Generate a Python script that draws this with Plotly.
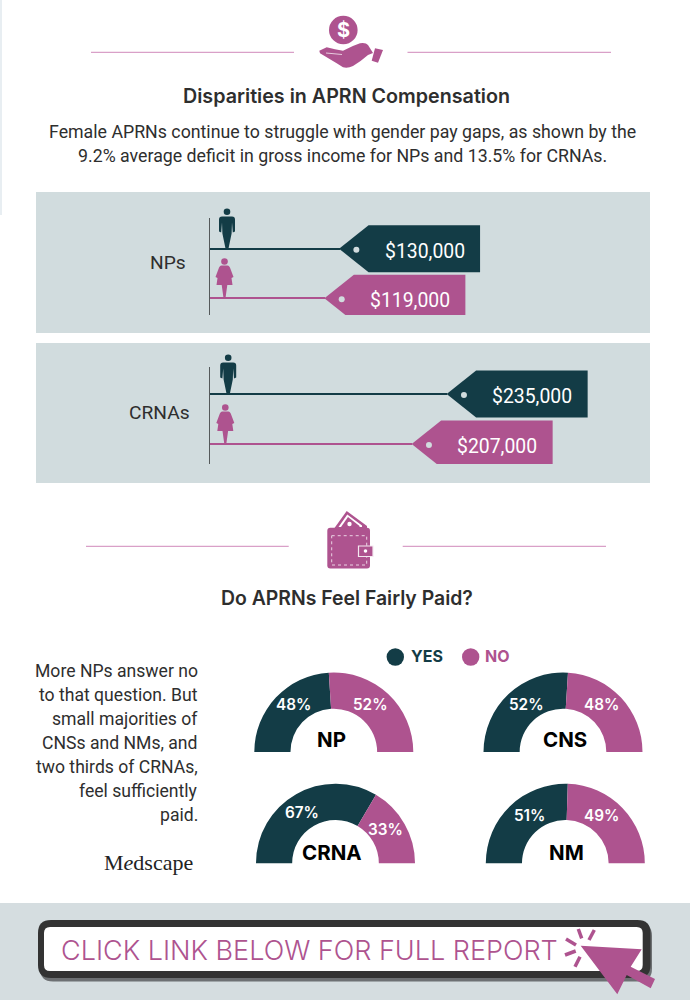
import plotly.graph_objects as go

# ---- data ----
genders = ["Male", "Female"]
np_pay = [130000, 119000]
crna_pay = [235000, 207000]
pay_labels_np = ["$130,000", "$119,000"]
pay_labels_crna = ["$235,000", "$207,000"]
donut_names = ["NP", "CNS", "CRNA", "NM"]
yes_pct = [48, 52, 67, 51]
no_pct = [52, 48, 33, 49]
body_lines = ["Female APRNs continue to struggle with gender pay gaps, as shown by the",
              "9.2% average deficit in gross income for NPs and 13.5% for CRNAs."]
side_lines = ["More NPs answer no", "to that question. But", "small majorities of",
              "CNSs and NMs, and", "two thirds of CRNAs,", "feel sufficiently", "paid."]

# ---- style ----
W, H = 690, 1000
DARK = "#133C46"
PURPLE = "#AE538F"
PINK = "#D9A0C8"
PANEL = "#D1DCDE"
BAND = "#D5DDE0"
INK = "#2E2E2E"
HEAD = "Inter"
BODY = "Roboto"

shapes, annos = [], []


def text(s, x, y, size, color=INK, family=BODY, weight=400, anchor="center", xref="x", yref="y", xshift=0, yshift=0):
    annos.append(dict(text=s, x=x, y=y, xref=xref, yref=yref, showarrow=False, xanchor=anchor, yanchor="middle",
                      xshift=xshift, yshift=yshift, align=anchor if anchor != "center" else "center",
                      font=dict(family=family, size=size, color=color, weight=weight)))


def rect(x0, y0, x1, y1, color, layer="below"):
    shapes.append(dict(type="rect", xref="x", yref="y", x0=x0, y0=y0, x1=x1, y1=y1, layer=layer,
                       fillcolor=color, line=dict(width=0)))


def hline(x0, x1, y, color=PINK, w=1.2):
    shapes.append(dict(type="line", xref="x", yref="y", x0=x0, x1=x1, y0=y, y1=y, layer="below",
                       line=dict(color=color, width=w)))


def path(d, color, line=None, lw=0):
    shapes.append(dict(type="path", xref="x", yref="y", path=d, fillcolor=color, layer="above",
                       line=dict(width=lw, color=line or color)))


def circle(cx, cy, r, color):
    shapes.append(dict(type="circle", xref="x", yref="y", x0=cx - r, x1=cx + r, y0=cy - r, y1=cy + r,
                       fillcolor=color, layer="above", line=dict(width=0)))


def round_rect(x0, y0, x1, y1, r, color):
    path(f"M {x0+r} {y0} L {x1-r} {y0} Q {x1} {y0} {x1} {y0+r} L {x1} {y1-r} Q {x1} {y1} {x1-r} {y1} "
         f"L {x0+r} {y1} Q {x0} {y1} {x0} {y1-r} L {x0} {y0+r} Q {x0} {y0} {x0+r} {y0} Z", color)


def man(cx, base):
    t = base - 36.5
    circle(cx, base - 36.3, 3.3, DARK)
    path(f"M {cx-5} {t+5} L {cx+5} {t+5} Q {cx+8} {t+5} {cx+8} {t+8} L {cx+8} {t+20} L {cx+5.8} {t+21} "
         f"L {cx+5} {t+11} L {cx+4.6} {t+22} L {cx+1.6} {base} L {cx-1.6} {base} L {cx-4.6} {t+22} L {cx-5} {t+11} "
         f"L {cx-5.8} {t+21} L {cx-8} {t+20} L {cx-8} {t+8} Q {cx-8} {t+5} {cx-5} {t+5} Z", DARK)


def woman(cx, base):
    circle(cx, base - 36.5, 3.3, PURPLE)
    path(f"M {cx-3} {base-32.5} L {cx+3} {base-32.5} Q {cx+5} {base-32.5} {cx+6} {base-29} L {cx+9} {base-21} L {cx+7} {base-20} "
         f"L {cx+8} {base-13} L {cx+2.8} {base-13} L {cx+1} {base} L {cx-1} {base} L {cx-2.8} {base-13} L {cx-8} {base-13} "
         f"L {cx-7} {base-20} L {cx-9} {base-21} L {cx-6} {base-29} Q {cx-5} {base-32.5} {cx-3} {base-32.5} Z", PURPLE)


fig = go.Figure()

# full page pixel axis for the surrounding artwork
layout_axes = dict(
    xaxis=dict(domain=[0, 1], range=[0, W], visible=False, fixedrange=True),
    yaxis=dict(domain=[0, 1], range=[H, 0], visible=False, fixedrange=True),
)
fig.add_trace(go.Scatter(x=[None], y=[None], xaxis="x", yaxis="y", showlegend=False))

# backgrounds
rect(0, 0, 2, 215, "#E8EEF2")
rect(36, 192, 650, 333, PANEL)
rect(36, 343, 650, 483, PANEL)
rect(0, 903, W, H, BAND)

# header block 1
hline(91, 294, 52.3)
hline(407.5, 611, 52.3)
circle(343.3, 30, 14.3, PURPLE)
text("$", 343.3, 30, 20, "white", HEAD, 700)
path("M 319.3 50.7 L 326.7 47.3 L 335 49.3 L 343 50.7 Q 352 46 360 43.3 Q 366 42.5 368 45 L 373 53 L 368 55 "
     "Q 360 62 353 66 Q 348 68.5 343 67.3 L 336.7 63.3 L 320 53.3 Z", PURPLE)
path("M 375 48.3 L 383 50 L 378 62.7 L 371.7 60.7 Z", PURPLE)
shapes.append(dict(type="line", xref="x", yref="y", x0=326, y0=53, x1=342, y1=54.5, layer="above",
                   line=dict(color="white", width=0.7)))
text("Disparities in APRN Compensation", 346.5, 96, 19.7, INK, HEAD, 600)
for i, s in enumerate(body_lines):
    text(s, 342, 131.7 + i * 24.3, 17.75)

# pay panels: each has its own dollar scale, anchored to the vertical rule
PANELS = [
    dict(ax="2", pay=np_pay, labels=pay_labels_np, rng=[32900, 363000], yr=[1.337, -0.62], dom=[218, 315],
         title="NPs", tx=188, ty=262),
    dict(ax="3", pay=crna_pay, labels=pay_labels_crna, rng=[45320, 397640], yr=[1.4, -0.54], dom=[367, 464],
         title="CRNAs", tx=192, ty=412),
]
for p in PANELS:
    a = p["ax"]
    layout_axes[f"xaxis{a}"] = dict(domain=[209.5 / W, 650 / W], range=p["rng"], anchor=f"y{a}", visible=False, fixedrange=True)
    layout_axes[f"yaxis{a}"] = dict(domain=[1 - p["dom"][1] / H, 1 - p["dom"][0] / H], range=p["yr"], anchor=f"x{a}",
                                    type="category", categoryorder="array", categoryarray=genders,
                                    showgrid=False, zeroline=False, showticklabels=False, ticks="",
                                    showline=True, linecolor="#555A5B", linewidth=1, fixedrange=True)
    fig.add_trace(go.Bar(x=p["pay"], y=genders, orientation="h", width=0.045, xaxis=f"x{a}", yaxis=f"y{a}",
                         marker=dict(color=[DARK, PURPLE], line=dict(width=0)), showlegend=False, hoverinfo="skip"))
    for i, (v, lab) in enumerate(zip(p["pay"], p["labels"])):
        col = DARK if i == 0 else PURPLE
        shapes.append(dict(type="path", xref=f"x{a}", yref=f"y{a}", xsizemode="pixel", ysizemode="pixel",
                           xanchor=v, yanchor=i, layer="above", fillcolor=col, line=dict(width=0),
                           path="M 0 0 L 29.5 23.5 L 141 23.5 L 141 -23.5 L 29.5 -23.5 Z"))
        shapes.append(dict(type="circle", xref=f"x{a}", yref=f"y{a}", xsizemode="pixel", ysizemode="pixel",
                           xanchor=v, yanchor=i, layer="above", fillcolor=PANEL, line=dict(width=0),
                           x0=14.3, x1=20.3, y0=-4, y1=2))
        text(lab, v, i, 19.4, "white", BODY, 400, "right", f"x{a}", f"y{a}", xshift=127.5, yshift=-2.5)
    text(p["title"], p["tx"], p["ty"], 19.2, INK, BODY, 400, "right")

man(227, 248)
woman(224.5, 298)
man(228.2, 394)
woman(225.3, 444)

# header block 2
hline(86, 288.7, 546.3)
hline(402.7, 606, 546.3)
path("M 334.5 528 L 346.7 511 L 367 526 L 367 528 Z", PURPLE)
path("M 338.5 527 L 347.3 514.5 L 362 525.5 L 362 527 Z", "white")
path("M 341 527 L 348 517 L 359.5 526 L 359.5 527 Z", PURPLE)
circle(349.5, 524, 2.2, "white")
round_rect(327.3, 527.7, 370, 568.5, 3, PURPLE)
shapes.append(dict(type="rect", xref="x", yref="y", x0=331.7, x1=366.7, y0=535.7, y1=565, layer="above",
                   fillcolor="rgba(0,0,0,0)", line=dict(color="#EBD3E3", width=1, dash="dot")))
path("M 358.5 546 L 373 546 L 373 556.5 L 358.5 556.5 Z", PURPLE, "#F4E8F0", 1.2)
circle(365.5, 551, 1.8, "white")
text("Do APRNs Feel Fairly Paid?", 346.5, 598, 19.4, INK, HEAD, 600)

# side text
for i, s in enumerate(side_lines):
    text(s, 199.5, 670.7 + i * 24.1, 17.6, INK, BODY, 400, "right")
text("M<i>e</i>dscape", 195, 862, 22, "#222222", "Liberation Serif", 400, "right")

# legend
circle(395.3, 657, 8.7, DARK)
text("YES", 408.5, 656, 16, DARK, HEAD, 700, "left")
circle(470.7, 657, 8.7, PURPLE)
text("NO", 482.5, 656, 16, PURPLE, HEAD, 700, "left")

# half donuts
centres = [(333.8, 752), (563, 752), (335.5, 863.3), (565.3, 863.3)]
name_pos = [(331.5, 739.5), (565, 739.5), (332, 852.7), (566.5, 852.7)]
yes_offset = [(-40, -48), (-37, -48), (-33.6, -51), (-36, -48)]
no_offset = [(36.5, -48), (38.7, -48), (50, -34), (36.4, -48)]
R = 79.5
for k, (name, y_v, n_v, (cx, cy)) in enumerate(zip(donut_names, yes_pct, no_pct, centres)):
    fig.add_trace(go.Pie(values=[y_v, n_v, y_v + n_v], textinfo="none", sort=False,
                         direction="clockwise", rotation=270, hole=0.545,
                         domain=dict(x=[(cx - R) / W, (cx + R) / W], y=[1 - (cy + R) / H, 1 - (cy - R) / H]),
                         marker=dict(colors=[DARK, PURPLE, "rgba(0,0,0,0)"], line=dict(width=0)),
                         showlegend=False, hoverinfo="skip"))
    text(f"{y_v}%", cx + yes_offset[k][0], cy + yes_offset[k][1], 15.3, "white", HEAD, 600)
    text(f"{n_v}%", cx + no_offset[k][0], cy + no_offset[k][1], 15.3, "white", HEAD, 600)
    text(name, name_pos[k][0], name_pos[k][1], 20.5, "#000000", HEAD, 700)

# call to action
round_rect(40, 923, 652, 981.5, 13, "#6D7073")
round_rect(38, 920, 650.5, 978, 13, "#333333")
round_rect(44, 927, 642.7, 971, 6, "white")
text("CLICK LINK BELOW FOR FULL REPORT", 58.5, 950.5, 27, PURPLE, HEAD, 300, "left")
path("M 580.7 945.7 L 641.7 949.3 L 630.7 966.7 L 655 979 L 650.7 988.3 L 626.7 975 L 617.3 994.3 Z", PURPLE)
for x0, y0, x1, y1 in [(578.3, 929, 581.7, 938.3), (594.3, 930, 589, 940), (566, 939, 576, 945),
                       (565, 955, 575.7, 951), (575, 966.7, 580, 956.7)]:
    shapes.append(dict(type="line", xref="x", yref="y", x0=x0, y0=y0, x1=x1, y1=y1, layer="above",
                       line=dict(color=PURPLE, width=3.5)))

fig.update_layout(width=W, height=H, margin=dict(l=0, r=0, t=0, b=0), paper_bgcolor="white", plot_bgcolor="rgba(0,0,0,0)",
                  bargap=0, shapes=shapes, annotations=annos, showlegend=False, **layout_axes)
fig.write_html("out.html", config=dict(displayModeBar=False),
               post_script="document.body.style.margin='0';")
